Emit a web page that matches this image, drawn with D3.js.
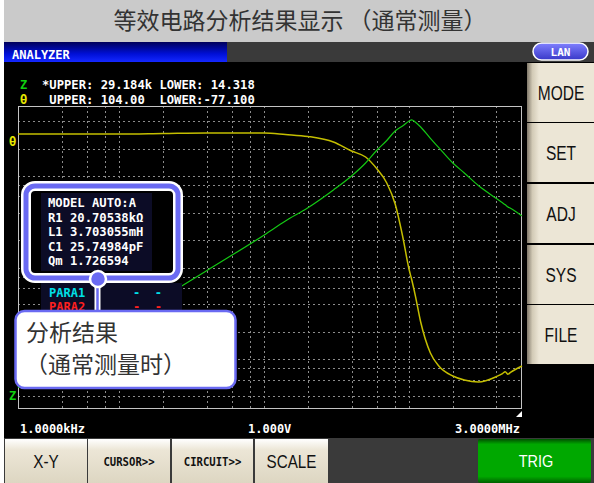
<!DOCTYPE html>
<html>
<head>
<meta charset="utf-8">
<script src="https://cdn.jsdelivr.net/npm/d3@7"></script>
<style>
  body { margin: 0; background: #fff; }
  svg { display: block; }
</style>
</head>
<body>
<svg width="594" height="483"></svg>
<script>
var freq   = [1e3, 2e3, 5e3, 1e4, 2e4, 5e4, 7e4, 1e5, 1.5e5, 2e5, 2.5e5, 3e5, 3.5e5, 4e5, 4.5e5, 5e5, 5.2e5, 5.5e5, 6e5, 7e5, 8e5, 1e6, 1.2e6, 1.5e6, 2e6, 2.2e6, 2.3e6, 2.4e6, 2.5e6, 3e6];
var zVal   = [24.5, 48.4, 119, 235, 464, 1141, 1619, 2256, 3530, 5019, 6960, 9652, 12260, 15570, 17650, 20020, 20600, 19520, 17210, 12920, 10250, 6960, 5413, 3944, 2843, 2559, 2432, 2307, 2228, 1835];
var thetaVal = [87.3, 87.3, 87.3, 87.6, 87.9, 87.9, 87.0, 85.8, 82.5, 77.1, 73.5, 66.3, 58.0, 45.4, 26.3, 6.0, 0.3, -9.0, -25.1, -43.6, -51.4, -57.4, -59.8, -61.0, -57.7, -55.9, -54.8, -56.3, -55.2, -51.4];

var freqGrid = [2e3, 3e3, 4e3, 5e3, 1e4, 2e4, 3e4, 4e4, 5e4, 1e5, 2e5, 3e5, 4e5, 5e5, 1e6, 2e6];
var zGrid = [20, 30, 40, 50, 100, 200, 300, 400, 500, 1e3, 2e3, 3e3, 4e3, 5e3, 1e4, 2e4];

var zRange = [14.318, 29184];
var thetaRange = [-77.1, 104.0];
var freqRange = [1e3, 3e6];

var rangeLines = ["*UPPER: 29.184k LOWER: 14.318", " UPPER: 104.00  LOWER:-77.100"];
var modelLines = ["MODEL AUTO:A", "R1 20.70538k\u03a9", "L1 3.703055mH", "C1 25.74984pF", "Qm 1.726594"];
var sideButtons = ["MODE", "SET", "ADJ", "SYS", "FILE"];
var bottomButtons = ["X-Y", "CURSOR>>", "CIRCUIT>>", "SCALE"];

var MONO = "'DejaVu Sans Mono', monospace";
var SANS = "'Liberation Sans', Arial, sans-serif";
var CJK = "'Noto Sans CJK SC', sans-serif";

var svg = d3.select("svg");
var defs = svg.append("defs");

function vGrad(id, stops, horiz) {
  var g = defs.append("linearGradient").attr("id", id)
      .attr("x1", 0).attr("y1", 0).attr("x2", horiz ? 1 : 0).attr("y2", horiz ? 0 : 1);
  stops.forEach(function(s) { g.append("stop").attr("offset", s[0]).attr("stop-color", s[1]); });
}
vGrad("hdrBlue", [[0, "#00005a"], [0.6, "#0010d8"], [1, "#1428ff"]]);
vGrad("btnSide", [[0, "#80786a"], [0.08, "#d2cab6"], [0.18, "#ece6d6"], [1, "#ece6d6"]], true);
vGrad("btnBot", [[0, "#ffffff"], [0.25, "#ece6d6"], [1, "#ddd6c2"]]);
vGrad("trig", [[0, "#005000"], [0.12, "#00a800"], [0.85, "#00a800"], [1, "#006000"]]);
vGrad("lan", [[0, "#8080ff"], [1, "#3838c8"]]);

// title bar
svg.append("rect").attr("x", 4).attr("y", 0).attr("width", 590).attr("height", 42).attr("fill", "#cacaca");
svg.append("text").attr("x", 300).attr("y", 29).attr("text-anchor", "middle")
    .attr("font-family", CJK).attr("font-size", 23).attr("fill", "#333")
    .text("等效电路分析结果显示 （通常测量）");

// header
svg.append("rect").attr("x", 4).attr("y", 42).attr("width", 590).attr("height", 20).attr("fill", "#3a3a3a");
svg.append("rect").attr("x", 4).attr("y", 42).attr("width", 223).attr("height", 20).attr("fill", "url(#hdrBlue)");
svg.append("text").attr("x", 12).attr("y", 59).attr("font-family", MONO).attr("font-weight", "bold")
    .attr("font-size", 12).attr("fill", "#fff").text("ANALYZER");
svg.append("rect").attr("x", 533).attr("y", 43).attr("width", 55).attr("height", 17).attr("rx", 8.5)
    .attr("fill", "url(#lan)").attr("stroke", "#fff").attr("stroke-width", 1.5);
svg.append("text").attr("x", 560.5).attr("y", 56).attr("text-anchor", "middle").attr("font-family", MONO)
    .attr("font-weight", "bold").attr("font-size", 11).attr("fill", "#fff").text("LAN");

// screen
svg.append("rect").attr("x", 4).attr("y", 62).attr("width", 590).attr("height", 376).attr("fill", "#000");

var x = d3.scaleLog().domain(freqRange).range([18, 522]);
var yZ = d3.scaleLog().domain(zRange).range([409, 106]);
var yT = d3.scaleLinear().domain(thetaRange).range([409, 106]);

var plot = svg.append("g");
plot.selectAll(".vgrid").data(freqGrid).enter().append("line")
    .attr("x1", function(d) { return Math.round(x(d)) + 0.5; })
    .attr("x2", function(d) { return Math.round(x(d)) + 0.5; })
    .attr("y1", 106).attr("y2", 409)
    .attr("stroke", "#8c8c8c").attr("stroke-dasharray", "2,3");
plot.selectAll(".hgrid").data(zGrid).enter().append("line")
    .attr("y1", function(d) { return Math.round(yZ(d)) + 0.5; })
    .attr("y2", function(d) { return Math.round(yZ(d)) + 0.5; })
    .attr("x1", 18).attr("x2", 522)
    .attr("stroke", "#8c8c8c").attr("stroke-dasharray", "2,3");
plot.append("rect").attr("x", 18.5).attr("y", 106.5).attr("width", 503).attr("height", 302)
    .attr("fill", "none").attr("stroke", "#c4c4c4");

var zLine = d3.line().curve(d3.curveMonotoneX)
    .x(function(d, i) { return x(freq[i]); })
    .y(function(d) { return yZ(d); });
var tLine = d3.line().curve(d3.curveMonotoneX)
    .x(function(d, i) { return x(freq[i]); })
    .y(function(d) { return yT(d); });

plot.append("path").datum(thetaVal).attr("d", tLine)
    .attr("fill", "none").attr("stroke", "#c4be00").attr("stroke-width", 1.5);
plot.append("path").datum(zVal).attr("d", zLine)
    .attr("fill", "none").attr("stroke", "#14c814").attr("stroke-width", 1.2);

// corner marker
svg.append("path").attr("d", "M522,411 L522,417 L516,417 Z").attr("fill", "#fff");

// range text
svg.append("text").attr("x", 20).attr("y", 89).attr("font-family", MONO).attr("font-weight", "bold")
    .attr("font-size", 12).attr("fill", "#10d010").text("Z");
svg.append("text").attr("x", 20).attr("y", 104).attr("font-family", MONO).attr("font-weight", "bold")
    .attr("font-size", 12).attr("fill", "#e8e800").text("\u03b8");
svg.selectAll(".range").data(rangeLines).enter().append("text")
    .attr("x", 42).attr("y", function(d, i) { return 89 + i * 15; })
    .attr("font-family", MONO).attr("font-weight", "bold").attr("font-size", 12.2)
    .attr("fill", "#fff").attr("xml:space", "preserve").style("white-space", "pre")
    .text(function(d) { return d; });
svg.append("text").attr("x", 9).attr("y", 146).attr("font-family", MONO).attr("font-weight", "bold")
    .attr("font-size", 12).attr("fill", "#e8e800").text("\u03b8");
svg.append("text").attr("x", 9).attr("y", 400).attr("font-family", MONO).attr("font-weight", "bold")
    .attr("font-size", 12).attr("fill", "#10d010").text("Z");

// bottom labels
var bottomInfo = svg.append("g").attr("font-family", MONO).attr("font-weight", "bold")
    .attr("font-size", 12).attr("fill", "#fff");
bottomInfo.append("text").attr("x", 20).attr("y", 433).text("1.0000kHz");
bottomInfo.append("text").attr("x", 248).attr("y", 433).text("1.000V");
bottomInfo.append("text").attr("x", 520).attr("y", 433).attr("text-anchor", "end").text("3.0000MHz");

// PARA rows
svg.append("rect").attr("x", 41).attr("y", 283).attr("width", 141).attr("height", 28).attr("fill", "#0c0c26");
svg.append("text").attr("x", 49).attr("y", 297).attr("font-family", MONO).attr("font-weight", "bold")
    .attr("font-size", 12).attr("fill", "#00e0e8").text("PARA1");
svg.append("text").attr("x", 133).attr("y", 297).attr("font-family", MONO).attr("font-weight", "bold")
    .attr("font-size", 12).attr("fill", "#00e0e8").attr("xml:space", "preserve").text("-  -");
svg.append("text").attr("x", 49).attr("y", 311).attr("font-family", MONO).attr("font-weight", "bold")
    .attr("font-size", 12).attr("fill", "#ff2020").text("PARA2");
svg.append("text").attr("x", 133).attr("y", 311).attr("font-family", MONO).attr("font-weight", "bold")
    .attr("font-size", 12).attr("fill", "#ff2020").attr("xml:space", "preserve").text("-  -");

// result callout
var BLUE = "#6a6af2";
svg.append("rect").attr("x", 26).attr("y", 186).attr("width", 152).attr("height", 92).attr("rx", 9)
    .attr("fill", "#000").attr("stroke", "#fff").attr("stroke-width", 10);
svg.append("rect").attr("x", 26).attr("y", 186).attr("width", 152).attr("height", 92).attr("rx", 9)
    .attr("fill", "none").attr("stroke", BLUE).attr("stroke-width", 5);
svg.append("rect").attr("x", 41).attr("y", 193).attr("width", 111).attr("height", 78).attr("fill", "#0c0c26");
svg.selectAll(".model").data(modelLines).enter().append("text")
    .attr("x", 48).attr("y", function(d, i) { return 207 + i * 14.6; })
    .attr("font-family", MONO).attr("font-weight", "bold").attr("font-size", 12.2)
    .attr("fill", "#fff").text(function(d) { return d; });

// connector
svg.append("line").attr("x1", 97.5).attr("x2", 97.5).attr("y1", 280).attr("y2", 312)
    .attr("stroke", "#fff").attr("stroke-width", 6);
svg.append("line").attr("x1", 97.5).attr("x2", 97.5).attr("y1", 280).attr("y2", 312)
    .attr("stroke", BLUE).attr("stroke-width", 2.5);
svg.append("circle").attr("cx", 98).attr("cy", 279).attr("r", 8).attr("fill", BLUE)
    .attr("stroke", "#fff").attr("stroke-width", 2.5);

// note callout
svg.append("rect").attr("x", 15.5).attr("y", 311).attr("width", 220).attr("height", 77).attr("rx", 9)
    .attr("fill", "#fff").attr("stroke", BLUE).attr("stroke-width", 2.5);
svg.append("text").attr("x", 26).attr("y", 341).attr("font-family", CJK).attr("font-size", 23)
    .attr("fill", "#333").text("分析结果");
svg.append("text").attr("x", 25).attr("y", 373).attr("font-family", CJK).attr("font-size", 23)
    .attr("fill", "#333").text("（通常测量时）");

// side buttons
var sideTop = [63, 123, 184, 245, 305];
svg.selectAll(".side").data(sideButtons).enter().append("rect")
    .attr("x", 527).attr("y", function(d, i) { return sideTop[i]; })
    .attr("width", 67).attr("height", 59).attr("fill", "url(#btnSide)");
svg.selectAll(".sideTxt").data(sideButtons).enter().append("text")
    .attr("transform", function(d, i) { return "translate(561," + (sideTop[i] + 37) + ") scale(0.74,1)"; })
    .attr("text-anchor", "middle").attr("font-family", SANS).attr("font-size", 21)
    .attr("fill", "#111").text(function(d) { return d; });

// bottom buttons
svg.append("rect").attr("x", 4).attr("y", 438).attr("width", 590).attr("height", 45).attr("fill", "#3a3a3a");
var botX = [5, 88, 172, 255];
var botW = [82, 82, 81, 73];
var botSize = [18, 12.5, 12.5, 19];
var botScale = [0.85, 0.85, 0.85, 0.8];
svg.selectAll(".bot").data(bottomButtons).enter().append("rect")
    .attr("x", function(d, i) { return botX[i]; }).attr("y", 439)
    .attr("width", function(d, i) { return botW[i]; }).attr("height", 44)
    .attr("fill", "url(#btnBot)");
svg.selectAll(".botTxt").data(bottomButtons).enter().append("text")
    .attr("transform", function(d, i) {
      return "translate(" + (botX[i] + botW[i] / 2) + "," + (i == 1 || i == 2 ? 466 : 468) + ") scale(" + botScale[i] + ",1)";
    })
    .attr("text-anchor", "middle")
    .attr("font-family", function(d, i) { return i == 1 || i == 2 ? MONO : SANS; })
    .attr("font-weight", function(d, i) { return i == 1 || i == 2 ? "bold" : "normal"; })
    .attr("font-size", function(d, i) { return botSize[i]; })
    .attr("fill", "#111").text(function(d) { return d; });

svg.append("rect").attr("x", 478).attr("y", 439).attr("width", 113).attr("height", 44).attr("rx", 2)
    .attr("fill", "url(#trig)");
svg.append("text").attr("transform", "translate(536,467) scale(0.85,1)").attr("text-anchor", "middle")
    .attr("font-family", SANS).attr("font-size", 17).attr("fill", "#fff").text("TRIG");
</script>
</body>
</html>
